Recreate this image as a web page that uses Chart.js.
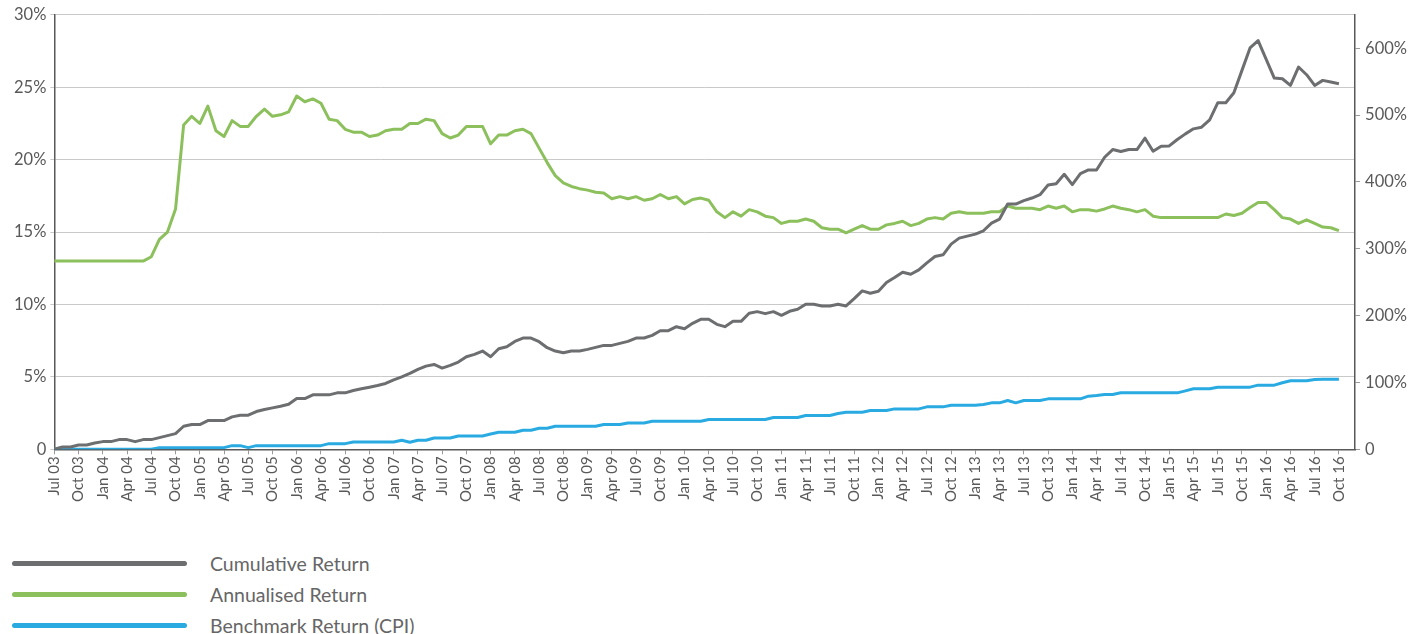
<!DOCTYPE html>
<html lang="en">

<head>
    <meta charset="UTF-8">
    <title>Cumulative and Annualised Return</title>
    <script src="https://cdn.jsdelivr.net/npm/chart.js@4"></script>
    <style>
        body { margin: 0; background: #fff; font-family: Lato, "Open Sans", sans-serif; }
        .grafico { position: relative; width: 1412px; height: 518px; }
        .legenda { position: absolute; left: 12px; top: 548px; }
        .item { height: 31px; display: flex; align-items: center; color: #666; font-size: 19.5px; }
        .linha { width: 175px; height: 5px; border-radius: 3px; margin-right: 23px; }
    </style>
</head>

<body>
    <div class="grafico">
        <canvas id="retornos"></canvas>
    </div>
    <div class="legenda" id="legenda"></div>

<script>
    // meses (Jul 03 -> Dec 16), rótulo exibido a cada 3 meses
    const meses = [
        'Jul 03', 'Aug 03', 'Sep 03', 'Oct 03', 'Nov 03', 'Dec 03',
        'Jan 04', 'Feb 04', 'Mar 04', 'Apr 04', 'May 04', 'Jun 04', 'Jul 04', 'Aug 04', 'Sep 04', 'Oct 04', 'Nov 04', 'Dec 04',
        'Jan 05', 'Feb 05', 'Mar 05', 'Apr 05', 'May 05', 'Jun 05', 'Jul 05', 'Aug 05', 'Sep 05', 'Oct 05', 'Nov 05', 'Dec 05',
        'Jan 06', 'Feb 06', 'Mar 06', 'Apr 06', 'May 06', 'Jun 06', 'Jul 06', 'Aug 06', 'Sep 06', 'Oct 06', 'Nov 06', 'Dec 06',
        'Jan 07', 'Feb 07', 'Mar 07', 'Apr 07', 'May 07', 'Jun 07', 'Jul 07', 'Aug 07', 'Sep 07', 'Oct 07', 'Nov 07', 'Dec 07',
        'Jan 08', 'Feb 08', 'Mar 08', 'Apr 08', 'May 08', 'Jun 08', 'Jul 08', 'Aug 08', 'Sep 08', 'Oct 08', 'Nov 08', 'Dec 08',
        'Jan 09', 'Feb 09', 'Mar 09', 'Apr 09', 'May 09', 'Jun 09', 'Jul 09', 'Aug 09', 'Sep 09', 'Oct 09', 'Nov 09', 'Dec 09',
        'Jan 10', 'Feb 10', 'Mar 10', 'Apr 10', 'May 10', 'Jun 10', 'Jul 10', 'Aug 10', 'Sep 10', 'Oct 10', 'Nov 10', 'Dec 10',
        'Jan 11', 'Feb 11', 'Mar 11', 'Apr 11', 'May 11', 'Jun 11', 'Jul 11', 'Aug 11', 'Sep 11', 'Oct 11', 'Nov 11', 'Dec 11',
        'Jan 12', 'Feb 12', 'Mar 12', 'Apr 12', 'May 12', 'Jun 12', 'Jul 12', 'Aug 12', 'Sep 12', 'Oct 12', 'Nov 12', 'Dec 12',
        'Jan 13', 'Feb 13', 'Mar 13', 'Apr 13', 'May 13', 'Jun 13', 'Jul 13', 'Aug 13', 'Sep 13', 'Oct 13', 'Nov 13', 'Dec 13',
        'Jan 14', 'Feb 14', 'Mar 14', 'Apr 14', 'May 14', 'Jun 14', 'Jul 14', 'Aug 14', 'Sep 14', 'Oct 14', 'Nov 14', 'Dec 14',
        'Jan 15', 'Feb 15', 'Mar 15', 'Apr 15', 'May 15', 'Jun 15', 'Jul 15', 'Aug 15', 'Sep 15', 'Oct 15', 'Nov 15', 'Dec 15',
        'Jan 16', 'Feb 16', 'Mar 16', 'Apr 16', 'May 16', 'Jun 16', 'Jul 16', 'Aug 16', 'Sep 16', 'Oct 16', 'Nov 16', 'Dec 16'
    ];

    // retorno acumulado (%), eixo direito
    const retornoAcumulado = [
        0, 3.5, 3.5, 6.5, 6.5, 9.5, 11.5, 11.5, 14.5, 14.5, 11.5, 14.5,
        14.5, 17.5, 20.5, 23.5, 34.5, 37, 37, 43, 43, 43, 48.5, 51,
        51, 56.5, 59.5, 62, 64.5, 67.5, 76, 76, 81.5, 81.5, 81.5, 84.5,
        84.5, 88, 90.5, 93, 95.5, 98.5, 104, 108.5, 113.5, 119.5, 124.5, 127,
        121.5, 125.5, 130.5, 138.5, 142, 147, 138.5, 150.5, 153.5, 161.5, 166.5, 166.5,
        161, 152, 147, 144.5, 147, 147, 149.5, 152.5, 155.5, 155.5, 158.5, 161.5,
        166.5, 166.5, 170.5, 177.5, 177.5, 183.5, 180.5, 188.5, 194.5, 194.5, 187, 183.5,
        191.5, 191.5, 203.5, 206, 203, 206, 200.5, 206.5, 209.5, 217, 217, 214.5,
        214.5, 217, 214.5, 225.5, 237, 233.5, 236.5, 249.5, 257, 265, 262, 268.5,
        279, 288.5, 291, 307, 316, 319, 322, 327, 338.5, 344.5, 367, 367,
        372, 376, 381, 395.5, 397.5, 411.5, 396, 412.5, 418, 418, 437, 448.5,
        445.5, 448.5, 448.5, 465.5, 446, 453.5, 454, 463.5, 472, 479.5, 482, 493,
        518.5, 518.5, 533.5, 567, 600.5, 611.5, 583.5, 555.5, 554.5, 544.5, 572, 560.5,
        544.5, 552, 549.5, 547
    ];

    // retorno anualizado (%), eixo esquerdo
    const retornoAnualizado = [
        13.0, 13.0, 13.0, 13.0, 13.0, 13.0, 13.0, 13.0, 13.0, 13.0, 13.0, 13.0,
        13.3, 14.5, 15.0, 16.6, 22.4, 23.0, 22.5, 23.7, 22.0, 21.6, 22.7, 22.3,
        22.3, 23.0, 23.5, 23.0, 23.1, 23.3, 24.4, 24.0, 24.2, 23.9, 22.8, 22.7,
        22.1, 21.9, 21.9, 21.6, 21.7, 22.0, 22.1, 22.1, 22.5, 22.5, 22.8, 22.7,
        21.8, 21.5, 21.7, 22.3, 22.3, 22.3, 21.1, 21.7, 21.7, 22.0, 22.1, 21.8,
        20.8, 19.8, 18.9, 18.4, 18.15, 18.0, 17.9, 17.75, 17.7, 17.3, 17.45, 17.3,
        17.45, 17.2, 17.3, 17.6, 17.3, 17.45, 16.95, 17.25, 17.35, 17.2, 16.4, 16.0,
        16.4, 16.1, 16.55, 16.4, 16.1, 16.0, 15.6, 15.75, 15.75, 15.9, 15.75, 15.3,
        15.2, 15.2, 14.95, 15.2, 15.45, 15.2, 15.2, 15.5, 15.6, 15.75, 15.45, 15.6,
        15.9, 16.0, 15.9, 16.3, 16.4, 16.3, 16.3, 16.3, 16.4, 16.4, 16.8, 16.65,
        16.65, 16.65, 16.55, 16.8, 16.65, 16.8, 16.4, 16.55, 16.55, 16.45, 16.6, 16.8,
        16.65, 16.55, 16.4, 16.55, 16.1, 16.0, 16.0, 16.0, 16.0, 16.0, 16.0, 16.0,
        16.0, 16.25, 16.15, 16.3, 16.7, 17.05, 17.05, 16.55, 16.0, 15.9, 15.6, 15.85,
        15.6, 15.35, 15.3, 15.1
    ];

    // benchmark (CPI) acumulado (%), eixo direito
    const retornoBenchmark = [
        0, 0, 0, 0, 0, 0, 0, 0, 0, 0, 0, 0,
        0, 2.5, 2.5, 2.5, 2.5, 2.5, 2.5, 2.5, 2.5, 2.5, 5.5, 5.5,
        2.5, 5.5, 5.5, 5.5, 5.5, 5.5, 5.5, 5.5, 5.5, 5.5, 8.5, 8.5,
        8.5, 11, 11, 11, 11, 11, 11, 13.5, 10.5, 13.5, 13.5, 17,
        17, 17, 20, 20, 20, 20, 23, 25.5, 25.5, 25.5, 28.5, 28.5,
        31.5, 31.5, 34.5, 34.5, 34.5, 34.5, 34.5, 34.5, 37, 37, 37, 39.5,
        39.5, 39.5, 42, 42, 42, 42, 42, 42, 42, 44.5, 44.5, 44.5,
        44.5, 44.5, 44.5, 44.5, 44.5, 47.5, 47.5, 47.5, 47.5, 50.5, 50.5, 50.5,
        50.5, 53.5, 55.5, 55.5, 55.5, 58, 58, 58, 60.5, 60.5, 60.5, 60.5,
        63.5, 63.5, 63.5, 66, 66, 66, 66, 67, 69.5, 69.5, 73, 69.5,
        73, 73, 73, 75.5, 75.5, 75.5, 75.5, 75.5, 79.5, 80.5, 82, 82,
        84.5, 84.5, 84.5, 84.5, 84.5, 84.5, 84.5, 84.5, 87.5, 90.5, 90.5, 90.5,
        93, 93, 93, 93, 93, 96, 96, 96, 99.5, 102.5, 102.5, 102.5,
        104.5, 105, 105, 105
    ];

    const ticksEsquerda = [0, 5, 10, 15, 20, 25, 30];
    const ticksDireita = [0, 100, 200, 300, 400, 500, 600];

    const corTexto = '#595959';
    const corEixo = '#595959';
    const corGrade = '#c9c9c9';

    const dados = {
        labels: meses,
        datasets: [{
            label: 'Cumulative Return',
            data: retornoAcumulado,
            borderColor: '#6d6e70',
            yAxisID: 'y1'
        }, {
            label: 'Annualised Return',
            data: retornoAnualizado,
            borderColor: '#8cc05c',
            yAxisID: 'y'
        }, {
            label: 'Benchmark Return (CPI)',
            data: retornoBenchmark,
            borderColor: '#29abe2',
            yAxisID: 'y1'
        }]
    };

    const fonteEixo = { family: 'Lato', size: 16.5 };

    const config = {
        type: 'line',
        data: dados,
        options: {
            responsive: true,
            maintainAspectRatio: false,
            animation: false,
            layout: { padding: { top: 10, left: 10, right: 0, bottom: 14 } },
            plugins: { legend: { display: false }, tooltip: { enabled: false } },
            elements: {
                point: { radius: 0 },
                line: { borderWidth: 3, tension: 0, borderJoinStyle: 'round' }
            },
            scales: {
                x: {
                    offset: false,
                    grid: {
                        drawOnChartArea: false,
                        tickLength: 5,
                        color: ctx => ctx.index % 3 === 0 ? '#9a9a9a' : 'rgba(0,0,0,0)'
                    },
                    border: { color: corEixo, width: 1.5 },
                    ticks: {
                        autoSkip: false,
                        minRotation: 90,
                        maxRotation: 90,
                        padding: 2,
                        color: corTexto,
                        font: { family: 'Lato', size: 15 },
                        callback: function (valor, i) {
                            return i % 3 === 0 ? this.getLabelForValue(valor) : '';
                        }
                    }
                },
                y: {
                    position: 'left',
                    min: 0,
                    max: 30,
                    afterBuildTicks: escala => {
                        escala.ticks = ticksEsquerda.map(v => ({ value: v }));
                    },
                    ticks: {
                        color: corTexto,
                        font: fonteEixo,
                        padding: 4,
                        callback: v => v === 0 ? '0' : v + '%'
                    },
                    grid: { color: corGrade, tickLength: 4 },
                    border: { color: corEixo, width: 1.5 }
                },
                y1: {
                    position: 'right',
                    min: 0,
                    max: 650,
                    afterBuildTicks: escala => {
                        escala.ticks = ticksDireita.map(v => ({ value: v }));
                    },
                    ticks: {
                        color: corTexto,
                        font: fonteEixo,
                        padding: 5,
                        callback: v => v === 0 ? '0' : v + '%'
                    },
                    grid: { drawOnChartArea: false, tickLength: 5, color: '#9a9a9a' },
                    border: { color: corEixo, width: 1.5 }
                }
            }
        }
    };

    let grafico = new Chart(document.getElementById('retornos'), config);

    // legenda em html, montada a partir dos datasets
    dados.datasets.forEach(item => {
        document.getElementById('legenda').innerHTML += `
        <div class="item"><span class="linha" style="background:${item.borderColor}"></span>${item.label}</div>
        `
    });
</script>
</body>

</html>
